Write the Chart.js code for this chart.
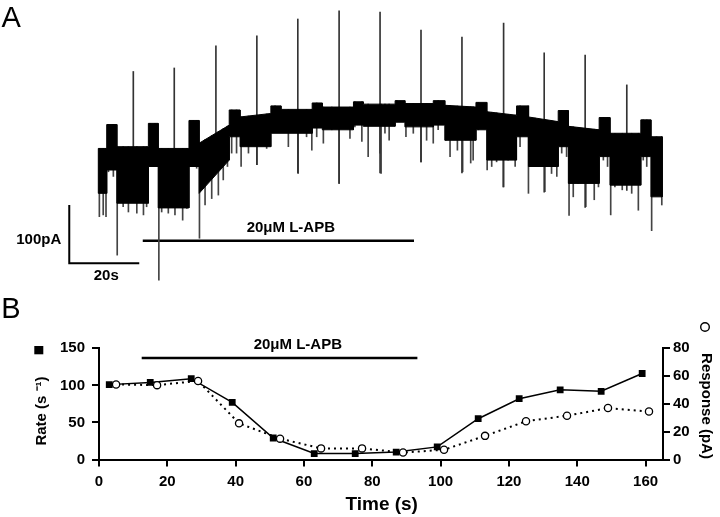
<!DOCTYPE html>
<html><head><meta charset="utf-8">
<script src="https://cdn.jsdelivr.net/npm/chart.js@4/dist/chart.umd.min.js"></script>
<style>
html,body{margin:0;padding:0;background:#fff;width:720px;height:517px;overflow:hidden}
#a{position:absolute;left:0;top:0}
#b{position:absolute;left:0;top:290px}
</style></head><body>
<canvas id="a" width="720" height="290"></canvas>
<canvas id="b" width="720" height="227"></canvas>
<script>
const FONT = "'Liberation Sans', Arial, Helvetica, sans-serif";

// ---------- Panel A: current trace (time in s, current in pA) ----------
const segStart    = [0, 2.4, 5.3, 14.3, 17.1, 25.9, 28.8, 37.4, 40.5, 49.3, 52.2, 61.1, 64.0, 72.9, 75.7, 84.8, 87.6, 95.7, 99.0, 107.9, 111.0, 119.5, 122.9, 131.4, 134.3, 143.1, 146.2, 155.0, 157.9];
const segEnd      = [2.4, 5.3, 14.3, 17.1, 25.9, 28.8, 37.4, 40.5, 49.3, 52.2, 61.1, 64.0, 72.9, 75.7, 84.8, 87.6, 95.7, 99.0, 107.9, 111.0, 119.5, 122.9, 131.4, 134.3, 143.1, 146.2, 155.0, 157.9, 161.1];
const segTopStart = [197, 238, 200, 240, 197, 245, 206, 263, 251, 270, 264, 275, 268, 277, 273, 279, 274, 279, 271, 276, 260, 270, 251, 262, 235, 250, 223, 246, 217];
const segTopEnd   = [197, 238, 200, 240, 197, 245, 237, 263, 257, 270, 264, 275, 268, 277, 273, 279, 274, 279, 268, 276, 254, 270, 243, 262, 229, 250, 223, 246, 217];
const segBotStart = [120, 160, 103, 166, 95, 166, 120, 217, 200, 223, 223, 232, 229, 237, 235, 242, 234, 237, 211, 229, 177, 217, 166, 200, 137, 183, 134, 183, 114];
const segBotEnd   = [120, 160, 103, 166, 95, 166, 177, 217, 200, 223, 223, 232, 229, 237, 235, 242, 234, 237, 211, 229, 177, 217, 166, 200, 137, 183, 134, 183, 114];

const upT    = [10.0, 21.7, 33.6, 45.3, 57.0, 68.8, 80.5, 92.2, 103.9, 115.8, 127.4, 139.1, 151.0];
const upHigh = [329, 335, 373, 390, 419, 433, 431, 400, 388, 412, 361, 357, 306];
const upLow  = [108, 100, 160, 169, 155, 137, 155, 174, 155, 131, 122, 96, 125];

const downT = [0.3,1.4,2.2,2.9,4.3,5.4,7.1,8.6,11.0,12.9,13.8,14.8,16.2,17.3,18.1,20.0,21.9,24.1,25.3,27.1,28.1,28.9,30.5,32.4,34.3,35.7,36.9,38.1,39.5,40.8,42.9,45.3,48.1,50.5,54.3,57.1,59.5,61.0,62.4,64.3,66.7,68.8,71.9,73.3,75.3,77.1,80.5,80.8,81.9,83.1,85.3,87.9,90.0,92.2,93.8,95.7,97.1,99.3,100.5,102.6,104.1,106.4,107.1,108.6,111.1,112.4,113.8,115.7,117.1,119.1,120.5,122.9,124.8,127.6,129.5,131.0,132.4,133.8,134.5,135.7,137.1,139.3,141.7,142.9,144.3,145.5,146.4,147.6,149.7,152.4,154.3,155.7,156.7,158.1,159.5,161.0];
const downLow = [80,83,80,157,149,14,97,88,86,83,97,172,166,-29,88,86,83,74,94,166,163,43,100,111,117,143,166,189,189,166,189,169,197,232,200,154,217,194,217,206,229,137,214,234,209,183,189,154,223,211,246,217,223,174,211,206,229,211,183,194,157,172,177,229,160,166,174,131,177,166,200,120,172,123,154,149,189,183,82,114,137,97,109,131,177,166,83,131,126,120,91,177,166,56,120,100];

const drugA = [12.7, 90.2];      // s
const drugLevelA = 38.8;         // pA
const scaleBarT = -8.3;          // s
const scaleBarSec = 20;          // s
const scaleBarPA = 100;          // pA

function bandTop(t){
  for (let i = 0; i < segStart.length; i++){
    if (t >= segStart[i] && t <= segEnd[i]){
      const f = (t - segStart[i]) / (segEnd[i] - segStart[i]);
      return segTopStart[i] + f * (segTopEnd[i] - segTopStart[i]);
    }
  }
  return segTopStart[segTopStart.length - 1];
}

// closed outline of the dense band: top edge forward, bottom edge back
const bandPts = [];
segStart.forEach((s, i) => {
  bandPts.push({x: s, y: segTopStart[i]}, {x: segEnd[i], y: segTopEnd[i]});
});
for (let i = segStart.length - 1; i >= 0; i--){
  bandPts.push({x: segEnd[i], y: segBotEnd[i]}, {x: segStart[i], y: segBotStart[i]});
}
bandPts.push({x: segStart[0], y: segTopStart[0]});

const textA = {
  id: 'textA',
  afterDraw(chart){
    const {ctx, scales: {x, y}} = chart;
    ctx.save();
    ctx.fillStyle = '#000';
    ctx.font = '29px ' + FONT;
    ctx.textAlign = 'left'; ctx.textBaseline = 'alphabetic';
    ctx.fillText('A', 1.5, 27);
    ctx.font = 'bold 15px ' + FONT;
    ctx.textBaseline = 'middle';
    ctx.textAlign = 'right';
    ctx.fillText('100pA', x.getPixelForValue(scaleBarT) - 8, y.getPixelForValue(41));
    ctx.textAlign = 'center';
    ctx.fillText('20s', x.getPixelForValue(scaleBarT + scaleBarSec / 2) + 2, y.getPixelForValue(0) + 13);
    ctx.fillText('20\u03bcM L-APB', x.getPixelForValue(55), y.getPixelForValue(drugLevelA) - 13);
    ctx.restore();
  }
};

new Chart(document.getElementById('a'), {
  type: 'line',
  data: { datasets: [
    { data: bandPts, borderColor: '#000', borderWidth: 1, backgroundColor: '#000', fill: 'shape', pointRadius: 0 },
    { type: 'bar', data: upT.map((t, i) => ({x: t, y: [upLow[i], upHigh[i]]})),
      backgroundColor: '#333', barThickness: 1, grouped: false },
    { type: 'bar', data: downT.map((t, i) => ({x: t, y: [downLow[i], bandTop(t)]})),
      backgroundColor: '#444', barThickness: 1, grouped: false },
    { data: [{x: drugA[0], y: drugLevelA}, {x: drugA[1], y: drugLevelA}], borderColor: '#000', borderWidth: 2.5, pointRadius: 0, fill: false },
    { data: [{x: scaleBarT, y: scaleBarPA}, {x: scaleBarT, y: 0}, {x: scaleBarT + scaleBarSec, y: 0}],
      borderColor: '#000', borderWidth: 2, pointRadius: 0, fill: false }
  ]},
  options: {
    responsive: false, animation: false, devicePixelRatio: 1,
    layout: { padding: 0 },
    elements: { line: { tension: 0 } },
    plugins: { legend: { display: false }, tooltip: { enabled: false } },
    scales: {
      x: { type: 'linear', display: false, offset: false, min: -28.09, max: 177.63 },
      y: { type: 'linear', display: false, min: -45.8, max: 451.6 }
    }
  },
  plugins: [textA]
});

// ---------- Panel B: rate and response vs time ----------
const timeRate = [3, 15, 27, 39, 51, 63, 75, 87, 99, 111, 123, 135, 147, 159];
const rate     = [101, 104, 109, 77, 29, 8, 8, 10, 17, 55, 82, 94, 92, 116];
const timeResp = [5, 17, 29, 41, 53, 65, 77, 89, 101, 113, 125, 137, 149, 161];
const resp     = [54, 53.5, 56.5, 26, 15, 8, 8, 5, 7, 17, 27.5, 31.5, 37, 34.5];
const xTicks   = [0, 20, 40, 60, 80, 100, 120, 140, 160];
const drugB = [12.5, 93.2];      // s
const drugLevelB = 137;          // on rate axis

const tickFont = { family: FONT, size: 15, weight: 'bold' };
const gridCfg = { display: true, drawOnChartArea: false, drawTicks: true, tickLength: 7, color: '#000', lineWidth: 2 };
const borderCfg = { display: true, color: '#000', width: 2 };

const textB = {
  id: 'textB',
  afterDraw(chart){
    const {ctx, scales: {x, y}} = chart;
    ctx.save();
    ctx.fillStyle = '#000';
    ctx.font = '29px ' + FONT;
    ctx.textAlign = 'left'; ctx.textBaseline = 'alphabetic';
    ctx.fillText('B', 1.2, 28.3);
    // legend glyphs
    ctx.fillRect(34.3, 56, 9, 8.3);
    ctx.beginPath(); ctx.arc(705, 37, 4.3, 0, Math.PI * 2);
    ctx.lineWidth = 1.4; ctx.strokeStyle = '#000'; ctx.stroke();
    ctx.font = 'bold 15px ' + FONT;
    ctx.textAlign = 'center'; ctx.textBaseline = 'middle';
    ctx.fillText('20\u03bcM L-APB', x.getPixelForValue(58.2), y.getPixelForValue(drugLevelB) - 13);
    // axis titles
    ctx.save(); ctx.translate(42, 121); ctx.rotate(-Math.PI / 2);
    ctx.fillText('Rate (s \u207b\u00b9)', 0, 0); ctx.restore();
    ctx.save(); ctx.translate(706, 116); ctx.rotate(Math.PI / 2);
    ctx.fillText('Response (pA)', 0, 0); ctx.restore();
    ctx.font = 'bold 19px ' + FONT;
    ctx.fillText('Time (s)', 381.7, 215);
    ctx.restore();
  }
};

new Chart(document.getElementById('b'), {
  type: 'line',
  data: { datasets: [
    { data: timeResp.map((t, i) => ({x: t, y: resp[i]})), yAxisID: 'y1',
      borderColor: '#000', borderWidth: 2, borderDash: [2, 4], fill: false,
      pointStyle: 'circle', pointRadius: 3.6, pointBackgroundColor: '#fff', pointBorderColor: '#000', pointBorderWidth: 1.3 },
    { data: timeRate.map((t, i) => ({x: t, y: rate[i]})), yAxisID: 'y',
      borderColor: '#000', borderWidth: 1.5, fill: false,
      pointStyle: 'rect', pointRadius: 4.8, pointBackgroundColor: '#000', pointBorderColor: '#000', pointBorderWidth: 0 },
    { data: [{x: drugB[0], y: drugLevelB}, {x: drugB[1], y: drugLevelB}], yAxisID: 'y',
      borderColor: '#000', borderWidth: 2.5, pointRadius: 0, fill: false }
  ]},
  options: {
    responsive: false, animation: false, devicePixelRatio: 1,
    layout: { padding: { top: 58.3, left: 0, right: 0, bottom: 0 } },
    elements: { line: { tension: 0 } },
    plugins: { legend: { display: false }, tooltip: { enabled: false } },
    scales: {
      x: { type: 'linear', min: 0, max: 165.1, offset: false,
           afterBuildTicks: s => { s.ticks = xTicks.map(v => ({value: v})); },
           afterFit: s => { s.height = 57.5; },
           grid: gridCfg, border: borderCfg,
           ticks: { font: tickFont, color: '#000', padding: 6, maxRotation: 0, autoSkip: false } },
      y: { type: 'linear', position: 'left', min: 0, max: 150,
           afterFit: s => { s.width = 99; },
           grid: gridCfg, border: borderCfg,
           ticks: { stepSize: 50, font: tickFont, color: '#000', padding: 7 } },
      y1: { type: 'linear', position: 'right', min: 0, max: 80,
           afterFit: s => { s.width = 57; },
           grid: gridCfg, border: borderCfg,
           ticks: { stepSize: 20, font: tickFont, color: '#000', padding: 3 } }
    }
  },
  plugins: [textB]
});
</script></body></html>
